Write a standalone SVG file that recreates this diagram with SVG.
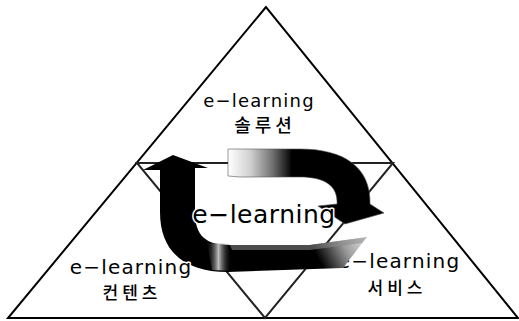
<svg xmlns="http://www.w3.org/2000/svg" width="519" height="321" viewBox="0 0 519 321">
  <style>
    .tri { fill: none; stroke: #000; stroke-width: 2; stroke-linejoin: miter; }
    .inner { fill: none; stroke: #222; stroke-width: 2; }
    .lat { font-family: "DejaVu Sans", "Liberation Sans", Arial, sans-serif; fill: #000; text-anchor: middle; }
    .kor { font-family: "Noto Sans CJK KR", "DejaVu Sans", sans-serif; fill: #000; text-anchor: middle; font-weight: 500; }
    .halo { paint-order: stroke; stroke: #fff; stroke-width: 3; stroke-linejoin: round; }
  </style>
  <defs>
    <linearGradient id="gUpper" gradientUnits="userSpaceOnUse" x1="228" y1="0" x2="292" y2="0">
      <stop offset="0" stop-color="#ffffff"/>
      <stop offset="0.35" stop-color="#d0d0d0"/>
      <stop offset="0.7" stop-color="#707070"/>
      <stop offset="1" stop-color="#000000"/>
    </linearGradient>
    <linearGradient id="gLower" gradientUnits="userSpaceOnUse" x1="320" y1="262" x2="366" y2="238">
      <stop offset="0" stop-color="#000000"/>
      <stop offset="0.55" stop-color="#9a9a9a"/>
      <stop offset="1" stop-color="#e6e6e6"/>
    </linearGradient>
    <linearGradient id="gPatch" gradientUnits="userSpaceOnUse" x1="205" y1="0" x2="232" y2="0">
      <stop offset="0" stop-color="#000000" stop-opacity="0"/>
      <stop offset="0.5" stop-color="#bdbdbd"/>
      <stop offset="1" stop-color="#000000" stop-opacity="0"/>
    </linearGradient>
  </defs>

  <g id="outer-triangle">
    <polygon class="tri" points="266,7 8,318 518,318"/>
  </g>
  <g id="inner-triangle">
    <polygon class="inner" points="137,163 393,163 265,318"/>
  </g>

  <g id="node-service">
    <text class="lat" x="399" y="268" font-size="20" letter-spacing="1.2">e−learning</text>
    <text class="kor" x="397" y="294" font-size="17" letter-spacing="4">서비스</text>
  </g>

  <g id="connectors">
    <path id="arrow-upper" d="M228,149 L300,149 C345,149 371,168 370,204 L384,213 L345,224 L318,206 L337,204 C338,186 325,177 300,177 L240,177 L228,176 Z" fill="url(#gUpper)" stroke="#555" stroke-width="0.6"/>
    <path id="arrow-lower" d="M173,155 L208,168 L195,168 L195,212 C195,236 206,245 230,245 L310,245 L367,237 L343,268 L228,272 C185,272 160,252 160,212 L160,170 L143,170 Z" fill="url(#gLower)"/>
    <path d="M207,243 L229,244 L233,271 L212,270 Z" fill="url(#gPatch)"/>
    <path d="M230,245 L310,245 L367,237 L362,243 L310,250 L232,250 Z" fill="#8a8a8a" opacity="0.55"/>
  </g>

  <g id="node-solution">
    <text class="lat" x="259" y="107" font-size="18" letter-spacing="1.2">e−learning</text>
    <text class="kor" x="265" y="132" font-size="18" letter-spacing="4">솔루션</text>
  </g>

  <g id="node-center">
    <text class="lat halo" x="264" y="223" font-size="25" letter-spacing="0.5">e−learning</text>
  </g>

  <g id="node-contents">
    <text class="lat halo" x="131" y="274" font-size="20" letter-spacing="1.2">e−learning</text>
    <text class="kor" x="132" y="299" font-size="17" letter-spacing="4">컨텐츠</text>
  </g>
</svg>
